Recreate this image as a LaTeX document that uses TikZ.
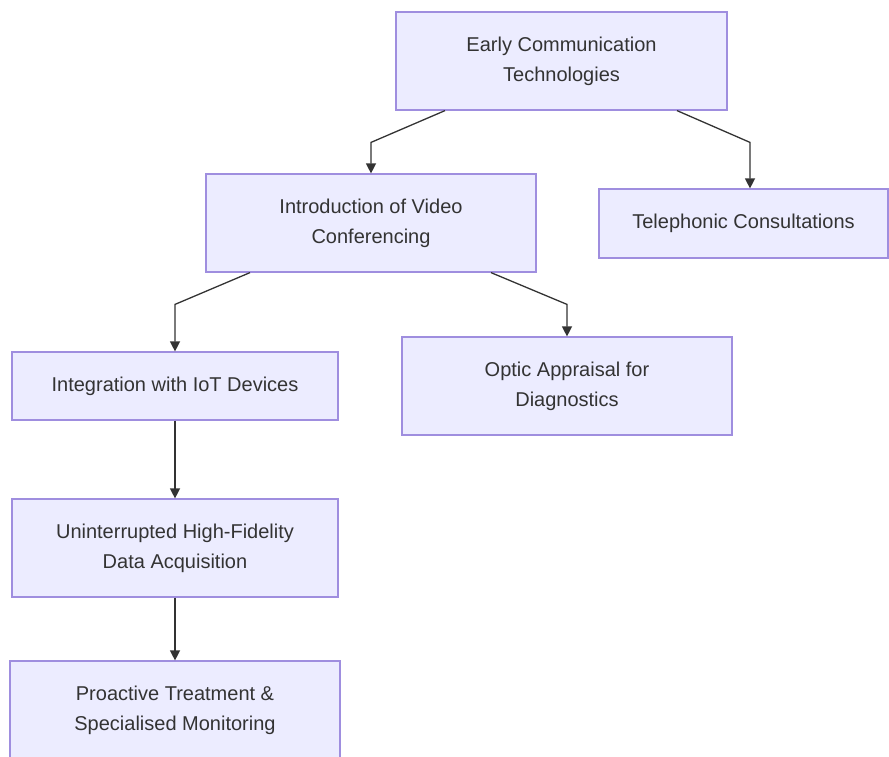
\documentclass[tikz,border=0pt]{standalone}
\usepackage{fontspec}
\setmainfont{Liberation Sans}
\usetikzlibrary{arrows.meta}
\definecolor{boxfill}{HTML}{ECECFF}
\definecolor{boxline}{HTML}{9F8EDF}
\definecolor{inkgray}{HTML}{333333}
\tikzset{
  stage/.style={draw=boxline, fill=boxfill, line width=1.2pt, text=inkgray,
    align=center, inner sep=0pt, font=\fontsize{20}{30}\selectfont},
  link/.style={draw=inkgray, line width=1.3pt, -{Triangle[length=10pt,width=10pt]}}
}
\begin{document}
\begin{tikzpicture}[x=1pt,y=-1pt]
	\useasboundingbox (0,0) rectangle (889,756);
	
	%boxes
	\node [stage, minimum width=331, minimum height=98] (early) at (561.5,61) {Early Communication\\Technologies};
	\node [stage, minimum width=330, minimum height=98] (video) at (371,223) {Introduction of Video\\Conferencing};
	\node [stage, minimum width=289, minimum height=69] (tele) at (743.5,223.5) {Telephonic Consultations};
	\node [stage, minimum width=326, minimum height=68] (iot) at (175,386) {Integration with IoT Devices};
	\node [stage, minimum width=330, minimum height=98] (optic) at (567,386) {Optic Appraisal for\\Diagnostics};
	\node [stage, minimum width=326, minimum height=98] (data) at (175,548) {Uninterrupted High-Fidelity\\Data Acquisition};
	\node [stage, minimum width=330, minimum height=98] (care) at (175,710) {Proactive Treatment \&\\Specialised Monitoring};
	
	%links
	\draw [link] ([xshift=-116.5pt]early.south) -- ([yshift=31pt]video.north) -- (video.north);
	\draw [link] ([xshift=115.5pt]early.south) -- ([xshift=6.5pt,yshift=46pt]tele.north) -- ([xshift=6.5pt]tele.north);
	\draw [link] ([xshift=-121pt]video.south) -- ([yshift=47pt]iot.north) -- (iot.north);
	\draw [link] ([xshift=120pt]video.south) -- ([yshift=32pt]optic.north) -- (optic.north);
	\draw [link] (iot) -- (data);
	\draw [link] (data) -- (care);
\end{tikzpicture}
\end{document}
